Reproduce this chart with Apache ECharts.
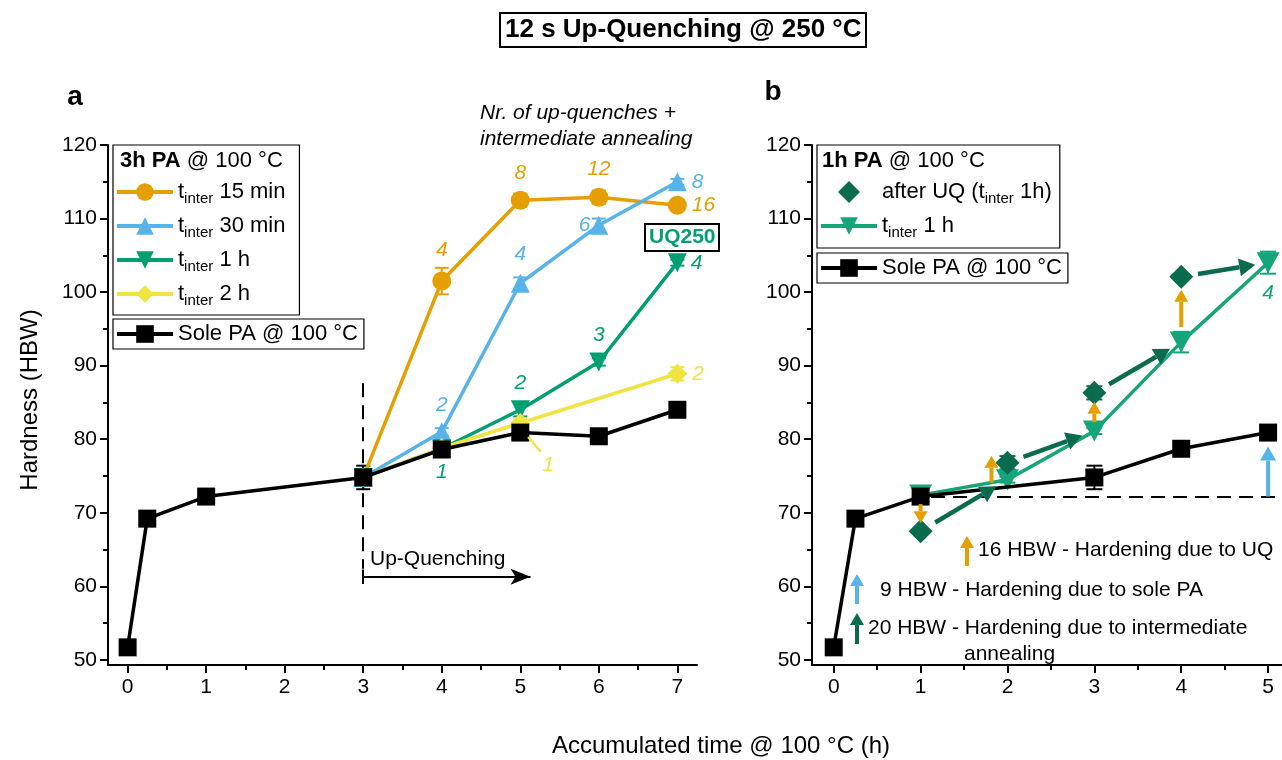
<!DOCTYPE html>
<html><head><meta charset="utf-8">
<script src="https://cdn.jsdelivr.net/npm/echarts@6/dist/echarts.min.js"></script>
<style>html,body{margin:0;padding:0;background:#fff}#c{width:1282px;height:760px}</style>
</head><body><div id="c"></div>
<script>
// ---------------- DATA ----------------
// Panel a (3h PA @ 100 °C)
const timesSoleA = [0, 0.25, 1, 3, 4, 5, 6, 7];
const hardSoleA  = [51.7, 69.2, 72.2, 74.8, 78.6, 80.9, 80.4, 84.0];
const errSoleA   = [0, 0, 0, 1.6, 0.5, 0.5, 0.4, 0.5];
const timesUQA   = [3, 4, 5, 6, 7];
const hard15     = [74.8, 101.5, 112.5, 112.9, 111.8];
const err15      = [0, 1.8, 0.9, 0.9, 0];
const hard30     = [74.8, 81.0, 101.2, 109.1, 115.0];
const err30      = [0, 0.5, 0.8, 0.9, 0.4];
const hard1h     = [74.8, 78.7, 84.0, 90.5, 104.0];
const err1h      = [0, 0.5, 0.9, 0.5, 0.4];
const times2h    = [3, 4, 5, 7];
const hard2h     = [74.8, 78.8, 82.2, 88.9];
const err2h      = [0, 0, 0.6, 0.9];
// number of up-quenches
const nq15 = ['', '4', '8', '12', '16'];
const nq30 = ['', '2', '4', '6', '8'];
const nq1h = ['', '1', '2', '3', '4'];
const nq2h = ['', '', '1', '2'];
// Panel b (1h PA @ 100 °C)
const timesSoleB = [0, 0.25, 1, 3, 4, 5];
const hardSoleB  = [51.7, 69.2, 72.2, 74.8, 78.7, 80.9];
const errSoleB   = [0, 0, 0, 1.6, 0.4, 0.4];
const timesInterB = [1, 2, 3, 4, 5];
const hardInterB  = [72.4, 74.5, 81.1, 93.2, 104.0];
const errInterB   = [0, 0.4, 0.4, 1.4, 1.5];
const nqInterB    = ['', '', '', '', '4'];
const timesAfterB = [1, 2, 3, 4];
const hardAfterB  = [67.5, 76.8, 86.3, 102.1];
const errAfterB   = [0.3, 0.9, 0.9, 0.3];
// tick labels
const xTicksA = [0, 1, 2, 3, 4, 5, 6, 7];
const xMinorA = [0.5, 1.5, 2.5, 3.5, 4.5, 5.5, 6.5];
const xTicksB = [0, 1, 2, 3, 4, 5];
const xMinorB = [0.5, 1.5, 2.5, 3.5, 4.5];
const yTicks  = [50, 60, 70, 80, 90, 100, 110, 120];
const yMinor  = [55, 65, 75, 85, 95, 105, 115];

// ---------------- STYLE ----------------
const FONT = '"Liberation Sans", Arial, sans-serif';
const C = {orange:'#E69F00', blue:'#56B4E9', green:'#009E73', yellow:'#F0E442',
           dkgreen:'#0B6B4F', green2:'#14A57A', black:'#000000'};

const chart = echarts.init(document.getElementById('c'), null, {renderer:'canvas'});

function xAxes(gi, min, max, majors, minors) {
  return [
    {gridIndex:gi, type:'value', position:'bottom', min, max,
     axisLine:{show:true, onZero:false, lineStyle:{color:'#000', width:2}},
     axisTick:{show:true, customValues:majors, length:8, lineStyle:{color:'#000', width:2}},
     axisLabel:{customValues:majors, fontSize:21, color:'#000', margin:12, fontFamily:FONT},
     splitLine:{show:false}},
    {gridIndex:gi, type:'value', position:'bottom', min, max,
     axisLine:{show:false, onZero:false},
     axisTick:{show:true, customValues:minors, length:5, lineStyle:{color:'#000', width:2}},
     axisLabel:{show:false}, splitLine:{show:false}}
  ];
}
function yAxes(gi) {
  return [
    {gridIndex:gi, type:'value', position:'left', min:49.3, max:120,
     axisLine:{show:true, onZero:false, lineStyle:{color:'#000', width:2}},
     axisTick:{show:true, customValues:yTicks, length:8, lineStyle:{color:'#000', width:2}},
     axisLabel:{customValues:yTicks, fontSize:21, color:'#000', margin:11, fontFamily:FONT},
     splitLine:{show:false}},
    {gridIndex:gi, type:'value', position:'left', min:49.3, max:120,
     axisLine:{show:false, onZero:false},
     axisTick:{show:true, customValues:yMinor, length:5, lineStyle:{color:'#000', width:2}},
     axisLabel:{show:false}, splitLine:{show:false}}
  ];
}

function lineSeries(name, xs, ys, color, symbol, size, rot, labels, lpos, xi, yi, z, extra) {
  const s = {
    name, type:'line', xAxisIndex:xi, yAxisIndex:yi, z: z,
    symbol, symbolSize:size, symbolRotate:rot || 0, showSymbol:true, showAllSymbol:true,
    lineStyle:{color, width:3.5}, itemStyle:{color, opacity:1},
    label:{show:false}, emphasis:{disabled:true}, animation:false,
    data: xs.map((x, i) => {
      const it = {value:[x, ys[i]]};
      const t = labels ? labels[i] : '';
      if (t) {
        it.label = Object.assign({show:true, formatter:t, color, fontSize:21, fontStyle:'italic',
                                  fontFamily:FONT}, lpos[i]);
      }
      return it;
    })
  };
  return Object.assign(s, extra || {});
}
function scatterSeries(name, xs, ys, color, symbol, size, xi, yi, z) {
  return {name, type:'scatter', xAxisIndex:xi, yAxisIndex:yi, z, symbol, symbolSize:size,
    symbolKeepAspect:true,
    itemStyle:{color, opacity:1}, emphasis:{disabled:true}, animation:false,
    data: xs.map((x, i) => [x, ys[i]])};
}
function errSeries(xs, ys, errs, color, xi, yi, cap) {
  const data = [];
  xs.forEach((x, i) => { if (errs[i] > 0) data.push([x, ys[i] - errs[i], ys[i] + errs[i]]); });
  return {type:'custom', xAxisIndex:xi, yAxisIndex:yi, z:1, silent:true, animation:false,
    encode:{x:0, y:[1, 2]}, data,
    renderItem(params, api) {
      const x = api.value(0);
      const lo = api.coord([x, api.value(1)]), hi = api.coord([x, api.value(2)]);
      const st = {stroke:color, lineWidth:2};
      return {type:'group', children:[
        {type:'line', shape:{x1:lo[0], y1:lo[1], x2:hi[0], y2:hi[1]}, style:st},
        {type:'line', shape:{x1:lo[0]-cap, y1:lo[1], x2:lo[0]+cap, y2:lo[1]}, style:st},
        {type:'line', shape:{x1:hi[0]-cap, y1:hi[1], x2:hi[0]+cap, y2:hi[1]}, style:st}
      ]};
    }};
}
// arrow primitive (pixel space)
function arrowEls(x1, y1, x2, y2, color, w, head, hw) {
  const dx = x2 - x1, dy = y2 - y1, L = Math.hypot(dx, dy) || 1;
  const ux = dx / L, uy = dy / L, nx = -uy, ny = ux;
  const bx = x2 - ux * head, by = y2 - uy * head;
  return [
    {type:'line', shape:{x1, y1, x2:bx, y2:by}, style:{stroke:color, lineWidth:w}},
    {type:'polygon', shape:{points:[[x2, y2], [bx + nx*hw, by + ny*hw], [bx - nx*hw, by - ny*hw]]},
     style:{fill:color}}
  ];
}
// arrow series between data points, shortened in pixel space
function arrowSeries(segs, color, xi, yi, trims, w, head, hw) {
  return {type:'custom', xAxisIndex:xi, yAxisIndex:yi, z:6, silent:true, animation:false,
    data: segs,
    renderItem(params, api) {
      const t = trims[params.dataIndex];
      let p1 = api.coord([api.value(0), api.value(1)]);
      let p2 = api.coord([api.value(2), api.value(3)]);
      p1 = [p1[0] + t[2], p1[1]]; p2 = [p2[0] + t[2], p2[1]];
      const dx = p2[0]-p1[0], dy = p2[1]-p1[1], L = Math.hypot(dx, dy) || 1;
      const ux = dx/L, uy = dy/L;
      const a = [p1[0] + ux*t[0], p1[1] + uy*t[0]], b = [p2[0] - ux*t[1], p2[1] - uy*t[1]];
      return {type:'group', children: arrowEls(a[0], a[1], b[0], b[1], color, w, head, hw)};
    }};
}

// ---- derived annotation segments from data ----
const interAt = x => hardInterB[timesInterB.indexOf(x)];
// UQ hardening (orange): from t_inter value to after-UQ value at same time
const uqSegs = timesAfterB.map((x, i) => [x, interAt(x), x, hardAfterB[i]]);
const uqTrims = [[9, 8, 0], [-3, -7, -16], [9, 9, 0], [15, 13, 0]];
// intermediate annealing (dark green): after-UQ value -> next t_inter value
const annSegs = timesAfterB.map((x, i) => [x, hardAfterB[i], timesInterB[i+1], hardInterB[i+1]]);
const annTrims = annSegs.map(() => [17, 13, 0]);
// sole PA hardening (blue): from the level at 1 h to the final sole value
const lastB = timesSoleB.length - 1;
const paSegs = [[timesSoleB[lastB], hardSoleB[2], timesSoleB[lastB], hardSoleB[lastB]]];
const paTrims = [[0, 14, 0]];

// ---- label placement (styles) ----
const T = (d) => ({position:'top', distance:d});
const R = (d) => ({position:'right', distance:d});
const pos15 = [null, T(11), T(7), T(8), R(5)];
const pos30 = [null, T(7), T(9), {position:'left', distance:-1}, R(5)];
const pos1h = [null, {position:'bottom', distance:3}, T(7), T(7), R(4)];
const pos2h = [null, null, {position:'inside', offset:[28, 42]}, R(5)];
const posIB = [null, null, null, null, {position:'bottom', distance:9}];

const subRich = {
  n:{fontSize:22, lineHeight:28, fontFamily:FONT, color:'#000'},
  s:{fontSize:15, lineHeight:16, verticalAlign:'bottom', fontFamily:FONT, color:'#000'}
};
const legendNames = {
  'a15':'{n|t}{s|inter}{n| 15 min}', 'a30':'{n|t}{s|inter}{n| 30 min}',
  'a1h':'{n|t}{s|inter}{n| 1 h}', 'a2h':'{n|t}{s|inter}{n| 2 h}',
  'aSole':'{n|Sole PA @ 100 °C}', 'bSole':'{n|Sole PA @ 100 °C}',
  'bAfter':'{n|after UQ (t}{s|inter}{n| 1h)}', 'bInter':'{n|t}{s|inter}{n| 1 h}'
};
function legend(names, left, top, padding, gap) {
  return {data:names, left, top, orient:'vertical', itemWidth:56, itemHeight:22, itemGap:gap,
    padding, borderColor:'#000', borderWidth:1.2, selectedMode:false, backgroundColor:'#fff',
    symbolKeepAspect:true, lineStyle:{width:4},
    formatter: n => legendNames[n], textStyle:{rich:subRich, fontSize:22, fontFamily:FONT}};
}

const dash = {color:'#000', width:2, type:[14, 8]};
const series = [
  // ---------- panel a ----------
  errSeries(timesUQA, hard15, err15, C.orange, 0, 0, 7),
  errSeries(timesUQA, hard30, err30, C.blue, 0, 0, 7),
  errSeries(timesUQA, hard1h, err1h, C.green, 0, 0, 7),
  errSeries(times2h, hard2h, err2h, C.yellow, 0, 0, 7),
  errSeries(timesSoleA, hardSoleA, errSoleA, C.black, 0, 0, 7),
  lineSeries('a15', timesUQA, hard15, C.orange, 'circle', 19, 0, nq15, pos15, 0, 0, 3),
  lineSeries('a30', timesUQA, hard30, C.blue, 'triangle', 19, 0, nq30, pos30, 0, 0, 3),
  lineSeries('a1h', timesUQA, hard1h, C.green, 'triangle', 19, 180, nq1h, pos1h, 0, 0, 3),
  lineSeries('a2h', times2h, hard2h, C.yellow, 'diamond', 20, 0, nq2h, pos2h, 0, 0, 3, {
    markLine:{silent:true, symbol:['none','none'], animation:false, label:{show:false},
      lineStyle:{color:C.yellow, width:2.5, type:'solid'},
      data:[[{coord:[5.1, 80.3]}, {coord:[5.26, 78.3]}]]}
  }),
  lineSeries('aSole', timesSoleA, hardSoleA, C.black, 'rect', 18, 0, null, null, 0, 0, 4, {
    markLine:{silent:true, symbol:['none','none'], animation:false, label:{show:false},
      data:[
        [{coord:[timesUQA[0], 87.6], lineStyle:dash}, {coord:[timesUQA[0], 62.4]}],
        [{coord:[timesUQA[0], 62.3], lineStyle:{color:'#000', width:2, type:'solid'}}, {coord:[timesUQA[0], 60.3]}],
        [{coord:[timesUQA[0], 61.3], symbol:'none', lineStyle:{color:'#000', width:2, type:'solid'}},
         {coord:[5.13, 61.3], symbol:'arrow', symbolSize:[12, 20]}]
      ]}
  }),
  // ---------- panel b ----------
  errSeries(timesSoleB, hardSoleB, errSoleB, C.black, 2, 2, 8),
  errSeries(timesInterB, hardInterB, errInterB, C.green2, 2, 2, 8),
  errSeries(timesAfterB, hardAfterB, errAfterB, C.dkgreen, 2, 2, 8),
  lineSeries('bInter', timesInterB, hardInterB, C.green2, 'triangle', [23, 21], 180, nqInterB, posIB, 2, 2, 3),
  scatterSeries('bAfter', timesAfterB, hardAfterB, C.dkgreen, 'diamond', 24, 2, 2, 3),
  lineSeries('bSole', timesSoleB, hardSoleB, C.black, 'rect', 18, 0, null, null, 2, 2, 4, {
    markLine:{silent:true, symbol:['none','none'], animation:false, label:{show:false},
      data:[[{coord:[1.12, hardSoleB[2]], lineStyle:dash}, {coord:[5.16, hardSoleB[2]]}]]}
  }),
  arrowSeries(uqSegs, C.orange, 2, 2, uqTrims, 4, 12, 7),
  arrowSeries(annSegs.slice(0, timesAfterB.length), C.dkgreen, 2, 2, annTrims, 4.5, 16, 9),
  arrowSeries(paSegs, C.blue, 2, 2, paTrims, 4, 14, 8)
];

function txt(x, y, text, size, extra) {
  return Object.assign({type:'text', x, y, silent:true, z:100,
    style:Object.assign({text, fontSize:size, fontFamily:FONT, fill:'#000',
      textVerticalAlign:'middle'}, (extra || {}).style || {})}, extra && extra.el || {});
}

const graphic = [
  // panel letters
  txt(75, 97, 'a', 28, {style:{fontWeight:'bold', textAlign:'center'}}),
  txt(773, 92, 'b', 28, {style:{fontWeight:'bold', textAlign:'center'}}),
  // axis titles
  {type:'text', x:30, y:400, rotation:Math.PI/2, silent:true,
   style:{text:'Hardness (HBW)', fontSize:24, fontFamily:FONT, fill:'#000', textAlign:'center', textVerticalAlign:'middle'}},
  txt(721, 746, 'Accumulated time @ 100 °C (h)', 24, {style:{textAlign:'center'}}),
  // panel a annotations
  txt(480, 113, 'Nr. of up-quenches +', 21, {style:{fontStyle:'italic'}}),
  txt(480, 139, 'intermediate annealing', 21, {style:{fontStyle:'italic'}}),
  txt(370, 559, 'Up-Quenching', 21),
  // legend titles
  txt(120, 161, '{b|3h PA}{r| @ 100 °C}', 22, {style:{rich:{
    b:{fontWeight:'bold', fontSize:22, fontFamily:FONT, fill:'#000'}, r:{fontSize:22, fontFamily:FONT, fill:'#000'}}}}),
  txt(822, 161, '{b|1h PA}{r| @ 100 °C}', 22, {style:{rich:{
    b:{fontWeight:'bold', fontSize:22, fontFamily:FONT, fill:'#000'}, r:{fontSize:22, fontFamily:FONT, fill:'#000'}}}}),
  // panel b explanation notes
  {type:'group', silent:true, z:100, children:arrowEls(967, 566, 967, 536, C.orange, 4, 12, 7)},
  txt(978, 550, '16 HBW - Hardening due to UQ', 21),
  {type:'group', silent:true, z:100, children:arrowEls(857, 604, 857, 574, C.blue, 4, 12, 7)},
  txt(880, 590, '9 HBW - Hardening due to sole PA', 21),
  {type:'group', silent:true, z:100, children:arrowEls(857, 644, 857, 613, C.dkgreen, 4, 12, 7)},
  txt(868, 628, '20 HBW - Hardening due to intermediate', 21),
  txt(964, 654, 'annealing', 21)
];

const option = {
  animation:false,
  backgroundColor:'#fff',
  textStyle:{fontFamily:FONT},
  title:[
    {text:'12 s Up-Quenching @ 250 °C', left:500, top:13, padding:[3, 5],
     borderColor:'#000', borderWidth:2,
     textStyle:{fontSize:26, fontWeight:'bold', color:'#000', fontFamily:FONT, lineHeight:28}},
    {text:'UQ250', left:645, top:224, padding:[3, 4], borderColor:'#000', borderWidth:2,
     textStyle:{fontSize:21, fontWeight:'bold', color:C.green, fontFamily:FONT, lineHeight:21}}
  ],
  grid:[
    {left:108, top:145, width:589, height:520, containLabel:false},
    {left:812, top:145, width:470, height:520, containLabel:false}
  ],
  xAxis:[...xAxes(0, -0.25, 7.25, xTicksA, xMinorA), ...xAxes(1, -0.25, 5.16, xTicksB, xMinorB)],
  yAxis:[...yAxes(0), ...yAxes(1)],
  legend:[
    legend(['a15', 'a30', 'a1h', 'a2h'], 113, 145, [36, 14, 7, 2], 9),
    legend(['aSole'], 113, 319, [4, 6, 4, 2], 9),
    legend([{name:'bAfter', icon:'path://M10,0 L20,10 L10,20 L0,10 Z'}, 'bInter'],
           817, 145, [36, 8, 8, 2], 9),
    legend(['bSole'], 817, 253, [4, 6, 4, 2], 9)
  ],
  series,
  graphic
};
chart.setOption(option);
</script></body></html>
